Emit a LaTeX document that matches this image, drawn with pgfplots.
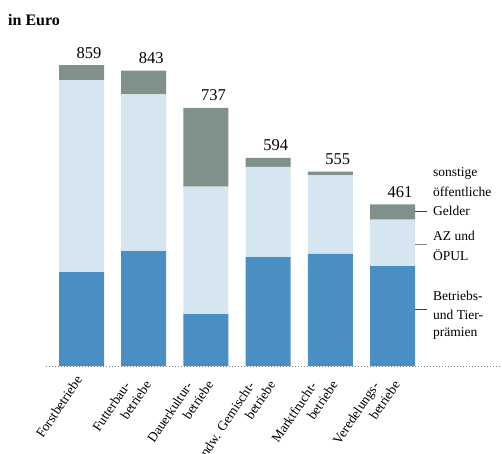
\documentclass[border=0pt]{standalone}
\usepackage{fontspec}
\setmainfont{Liberation Serif}
\usepackage{pgfplots}
\usepackage{pgfplotstable}
\pgfplotsset{compat=1.18}
\definecolor{cdark}{HTML}{7F918A}
\definecolor{clight}{HTML}{D5E6F0}
\definecolor{cblue}{HTML}{4A8FC4}
\pgfplotstableread{
x blue light dark total
0 268 548 43 859
1 328 447 68 843
2 148 364 225 737
3 311 257 26 594
4 320 224 11 555
5 285 133 43 461
}\datatable
\pgfplotsset{frame/.style={
  at={(0,0)}, anchor=south west,
  scale only axis, width=456pt, height=315.36pt,
  xmin=-0.571, xmax=6.76, ymin=0, ymax=900,
  enlargelimits=false, clip=false}}
\begin{document}
\begin{tikzpicture}
\begin{axis}[frame,
  ybar stacked, bar width=45pt,
  axis x line*=bottom, axis y line=none,
  x axis line style={draw=gray, line width=0.8pt, dash pattern=on 0.8pt off 2.2pt},
  ytick=\empty, xtick=data, major tick length=0,
  xticklabels={Forstbetriebe,{Futterbau-\hspace*{13pt}\\betriebe},{Dauerkultur-\hspace*{13pt}\\betriebe},{Landw. Gemischt-\hspace*{13pt}\\betriebe},{Marktfrucht-\hspace*{13pt}\\betriebe},{Veredelungs-\hspace*{13pt}\\betriebe}},
  xticklabel style={xshift=-1.5pt, yshift=-9.5pt, rotate=56, anchor=east, align=right, font=\fontsize{13.5}{16.5}\selectfont, inner sep=2pt},
]
\addplot[fill=cblue, draw=none] table[x=x, y=blue] {\datatable};
\addplot[fill=clight, draw=none] table[x=x, y=light] {\datatable};
\addplot[fill=cdark, draw=none] table[x=x, y=dark] {\datatable};
\end{axis}
\begin{axis}[frame, hide axis, /pgf/number format/assume math mode=true]
\addplot[draw=none, mark=none, point meta=explicit,
  nodes near coords={\pgfmathprintnumber{\pgfplotspointmeta}},
  every node near coord/.style={font=\fontsize{16.5}{19}\selectfont, anchor=base, xshift=7.5pt, yshift=7pt, text=black, inner sep=0pt}
] table[x=x, y=total, meta=total] {\datatable};
\end{axis}
% title
\node[anchor=base west, inner sep=0pt, font=\bfseries\fontsize{16}{19}\selectfont] at (-38pt,340pt) {in Euro};
% legend ticks
\draw[line width=1pt, black!75] (369pt,155pt) -- (381pt,155pt);
\draw[line width=1pt, black!50] (369pt,122pt) -- (381pt,122pt);
\draw[line width=1pt, black!75] (369pt,57pt) -- (381pt,57pt);
\begin{scope}[every node/.style={anchor=base west, inner sep=0pt, font=\fontsize{13.5}{16}\selectfont}]
\node at (387pt,190pt) {sonstige};
\node at (387pt,170pt) {öffentliche};
\node at (387pt,150.3pt) {Gelder};
\node at (387pt,125.3pt) {AZ und};
\node at (387pt,106pt) {ÖPUL};
\node at (387pt,66pt) {Betriebs-};
\node at (387pt,47pt) {und Tier-};
\node at (387pt,29.3pt) {prämien};
\end{scope}
\pgfresetboundingbox
\useasboundingbox (-46pt,-87pt) rectangle (456pt,366pt);
\end{tikzpicture}
\end{document}
